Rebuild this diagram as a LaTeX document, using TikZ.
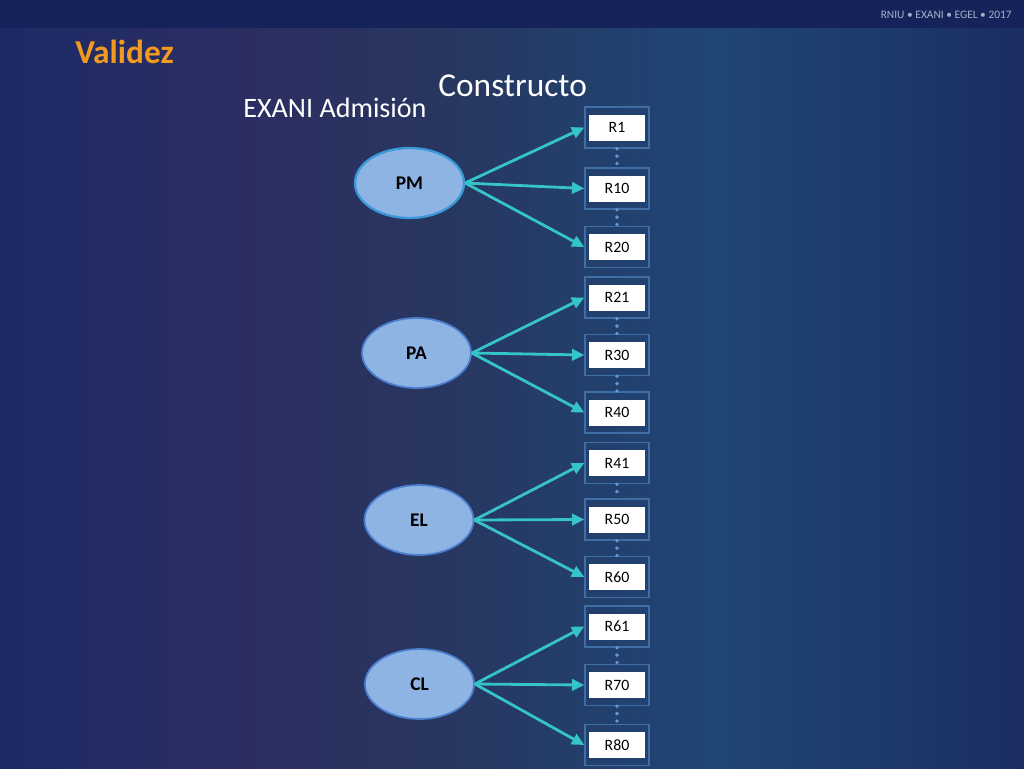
\documentclass[tikz,border=0pt]{standalone}
\usepackage{fontspec}
\setmainfont{Carlito}
\usetikzlibrary{positioning, shapes.geometric, arrows.meta}

\definecolor{bgA}{HTML}{1D2A66}
\definecolor{bgB}{HTML}{2C2E62}
\definecolor{bgC}{HTML}{28365F}
\definecolor{bgD}{HTML}{1F4676}
\definecolor{bgE}{HTML}{1D3A6C}
\definecolor{bgF}{HTML}{1B2D64}
\definecolor{topbar}{HTML}{15235A}
\definecolor{titleorange}{HTML}{F29A1F}
\definecolor{ellfill}{HTML}{8EB4E3}
\definecolor{elldraw}{HTML}{4A7FD0}
\definecolor{framecol}{HTML}{3F6EA6}
\definecolor{dotcol}{HTML}{5D9AD6}
\definecolor{arrowcol}{HTML}{35C4C8}
\definecolor{tagcol}{HTML}{A9AFCB}

\pgfdeclarehorizontalshading{slidebg}{100bp}{color(0bp)=(bgA); color(25bp)=(bgA);
  color(37bp)=(bgB); color(46bp)=(bgC); color(60bp)=(bgD); color(68bp)=(bgE);
  color(75bp)=(bgF); color(100bp)=(bgF)}

\tikzset{
  factor/.style={ellipse, draw=elldraw, line width=1pt, fill=ellfill,
    minimum width=2.18cm, minimum height=1.4cm, inner sep=0pt,
    font=\fontsize{11}{13}\selectfont\bfseries},
  itemframe/.style={draw=framecol, line width=0.8pt, minimum width=1.28cm,
    minimum height=0.82cm, inner sep=0pt},
  itemcell/.style={fill=white, minimum width=1.12cm, minimum height=0.52cm,
    inner sep=0pt, font=\fontsize{9}{11}\selectfont},
  link/.style={draw=arrowcol, line width=1.6pt, -{Triangle[length=7pt, width=6.5pt]}},
  dots/.style={draw=dotcol, line width=2.2pt, line cap=round,
    dash pattern=on 0pt off 4.2pt}
}

\begin{document}
\begin{tikzpicture}[x=0.02cm, y=-0.02cm]
            % background
            \useasboundingbox (0,0) rectangle (1024,768);
            \shade[shading=slidebg] (0,0) rectangle (1024,768);
            \fill[topbar] (0,0) rectangle (1024,28);

            \node[anchor=base east, text=tagcol, font=\fontsize{6.5}{8}\selectfont, inner sep=0pt] (tag) at (1012,18) {RNIU • EXANI • EGEL • 2017};
            \node[anchor=base west, text=titleorange, font=\fontsize{19}{23}\selectfont\bfseries, inner sep=0pt] (title) at (75,63) {Validez};
            \node[anchor=base west, text=white, font=\fontsize{19}{23}\selectfont, inner sep=0pt] (construct) at (438,96) {Constructo};
            \node[anchor=base west, text=white, font=\fontsize{16}{19}\selectfont, inner sep=0pt] (exam) at (243,117) {EXANI Admisión};

            % factors
            \node[factor, draw=elldraw!80!cyan, line width=1.3pt] (pm) at (409.5,183) {PM};
            \node[factor] (pa) at (416.5,353) {PA};
            \node[factor] (el) at (419,520) {EL};
            \node[factor] (cl) at (419.5,684) {CL};

            % item frames
            \node[itemframe] (f1) at (617,127.5) {};
            \node[itemframe] (f10) at (617,188.5) {};
            \node[itemframe] (f20) at (617,247) {};
            \node[itemframe] (f21) at (617,297.5) {};
            \node[itemframe] (f30) at (617,355) {};
            \node[itemframe] (f40) at (617,412.5) {};
            \node[itemframe] (f41) at (617,463) {};
            \node[itemframe] (f50) at (617,519.5) {};
            \node[itemframe] (f60) at (617,577) {};
            \node[itemframe] (f61) at (617,626.5) {};
            \node[itemframe] (f70) at (617,685) {};
            \node[itemframe] (f80) at (617,745) {};

            % items
            \node[itemcell] (r1) at (f1) {R1};
            \node[itemcell] (r10) at (f10) {R10};
            \node[itemcell] (r20) at (f20) {R20};
            \node[itemcell] (r21) at (f21) {R21};
            \node[itemcell] (r30) at (f30) {R30};
            \node[itemcell] (r40) at (f40) {R40};
            \node[itemcell] (r41) at (f41) {R41};
            \node[itemcell] (r50) at (f50) {R50};
            \node[itemcell] (r60) at (f60) {R60};
            \node[itemcell] (r61) at (f61) {R61};
            \node[itemcell] (r70) at (f70) {R70};
            \node[itemcell] (r80) at (f80) {R80};

            % dotted gaps
            \draw [dots] (f1.south) -- (f10.north);
            \draw [dots] (f10.south) -- (f20.north);
            \draw [dots] (f21.south) -- (f30.north);
            \draw [dots] (f30.south) -- (f40.north);
            \draw [dots] (f41.south) -- (f50.north);
            \draw [dots] (f50.south) -- (f60.north);
            \draw [dots] (f61.south) -- (f70.north);
            \draw [dots] (f70.south) -- (f80.north);

            % loadings
            \draw [link] (pm.east) -- (f1.west);
            \draw [link] (pm.east) -- (f10.west);
            \draw [link] (pm.east) -- (f20.west);
            \draw [link] (pa.east) -- (f21.west);
            \draw [link] (pa.east) -- (f30.west);
            \draw [link] (pa.east) -- (f40.west);
            \draw [link] (el.east) -- (f41.west);
            \draw [link] (el.east) -- (f50.west);
            \draw [link] (el.east) -- (f60.west);
            \draw [link] (cl.east) -- (f61.west);
            \draw [link] (cl.east) -- (f70.west);
            \draw [link] (cl.east) -- (f80.west);
        \end{tikzpicture}
\end{document}
